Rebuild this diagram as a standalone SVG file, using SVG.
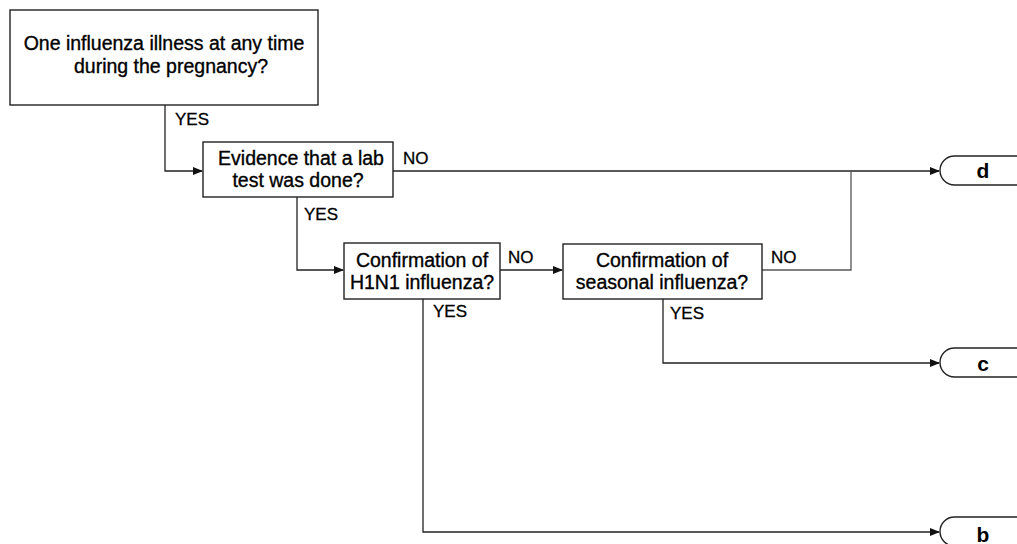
<svg xmlns="http://www.w3.org/2000/svg" width="1017" height="544" viewBox="0 0 1017 544">
<style>
.box{fill:#fff;stroke:#222;stroke-width:1.4}
.t{font-family:"Liberation Sans",Arial,sans-serif;font-size:19.5px;fill:#000;stroke:#000;stroke-width:0.35;text-anchor:middle}
.l{font-family:"Liberation Sans",Arial,sans-serif;font-size:17px;fill:#000;stroke:#000;stroke-width:0.3}
.term{font-family:"Liberation Sans",Arial,sans-serif;font-size:21px;font-weight:bold;fill:#000;text-anchor:middle}
.c{fill:none;stroke:#222;stroke-width:1.3}
</style>
<defs>
<marker id="ah" markerWidth="10" markerHeight="8" refX="9" refY="4" orient="auto" markerUnits="userSpaceOnUse">
<path d="M0,0 L10,4 L0,8 z" fill="#111"/>
</marker>
</defs>
<rect width="1017" height="544" fill="#fff"/>
<g id="connectors">
<path class="c" d="M165,105 V171 H202" marker-end="url(#ah)"/>
<path class="c" d="M393,171 H939" marker-end="url(#ah)"/>
<path class="c" d="M297,197 V270 H343" marker-end="url(#ah)"/>
<path class="c" d="M500,270 H562" marker-end="url(#ah)"/>
<path class="c" d="M762,270 H851 V171" style="stroke:#555"/>
<path class="c" d="M423,299 V532 H939" marker-end="url(#ah)"/>
<path class="c" d="M663,299 V363 H939" marker-end="url(#ah)"/>
<text class="l" x="175" y="125">YES</text>
<text class="l" x="403" y="164">NO</text>
<text class="l" x="304" y="220">YES</text>
<text class="l" x="508" y="263">NO</text>
<text class="l" x="433" y="317">YES</text>
<text class="l" x="771" y="263">NO</text>
<text class="l" x="670" y="319">YES</text>
</g>
<g id="q1">
<rect class="box" x="10" y="10" width="308" height="95"/>
<text class="t" x="164" y="50">One influenza illness at any time</text>
<text class="t" x="171" y="73">during the pregnancy?</text>
</g>
<g id="q2">
<rect class="box" x="203" y="142" width="190" height="55"/>
<text class="t" x="301" y="165">Evidence that a lab</text>
<text class="t" x="298" y="187">test was done?</text>
</g>
<g id="q3">
<rect class="box" x="344" y="243" width="156" height="56"/>
<text class="t" x="422" y="267">Confirmation of</text>
<text class="t" x="422" y="289">H1N1 influenza?</text>
</g>
<g id="q4">
<rect class="box" x="563" y="244" width="199" height="55"/>
<text class="t" x="662" y="267">Confirmation of</text>
<text class="t" x="662" y="289">seasonal influenza?</text>
</g>
<g id="d">
<rect class="box" x="940" y="156" width="110" height="29" rx="14.5"/>
<text class="term" x="983" y="178">d</text>
</g>
<g id="c">
<rect class="box" x="940" y="348" width="110" height="29" rx="14.5"/>
<text class="term" x="983" y="371">c</text>
</g>
<g id="b">
<rect class="box" x="940" y="517" width="110" height="29" rx="14.5"/>
<text class="term" x="983" y="542">b</text>
</g>
</svg>
